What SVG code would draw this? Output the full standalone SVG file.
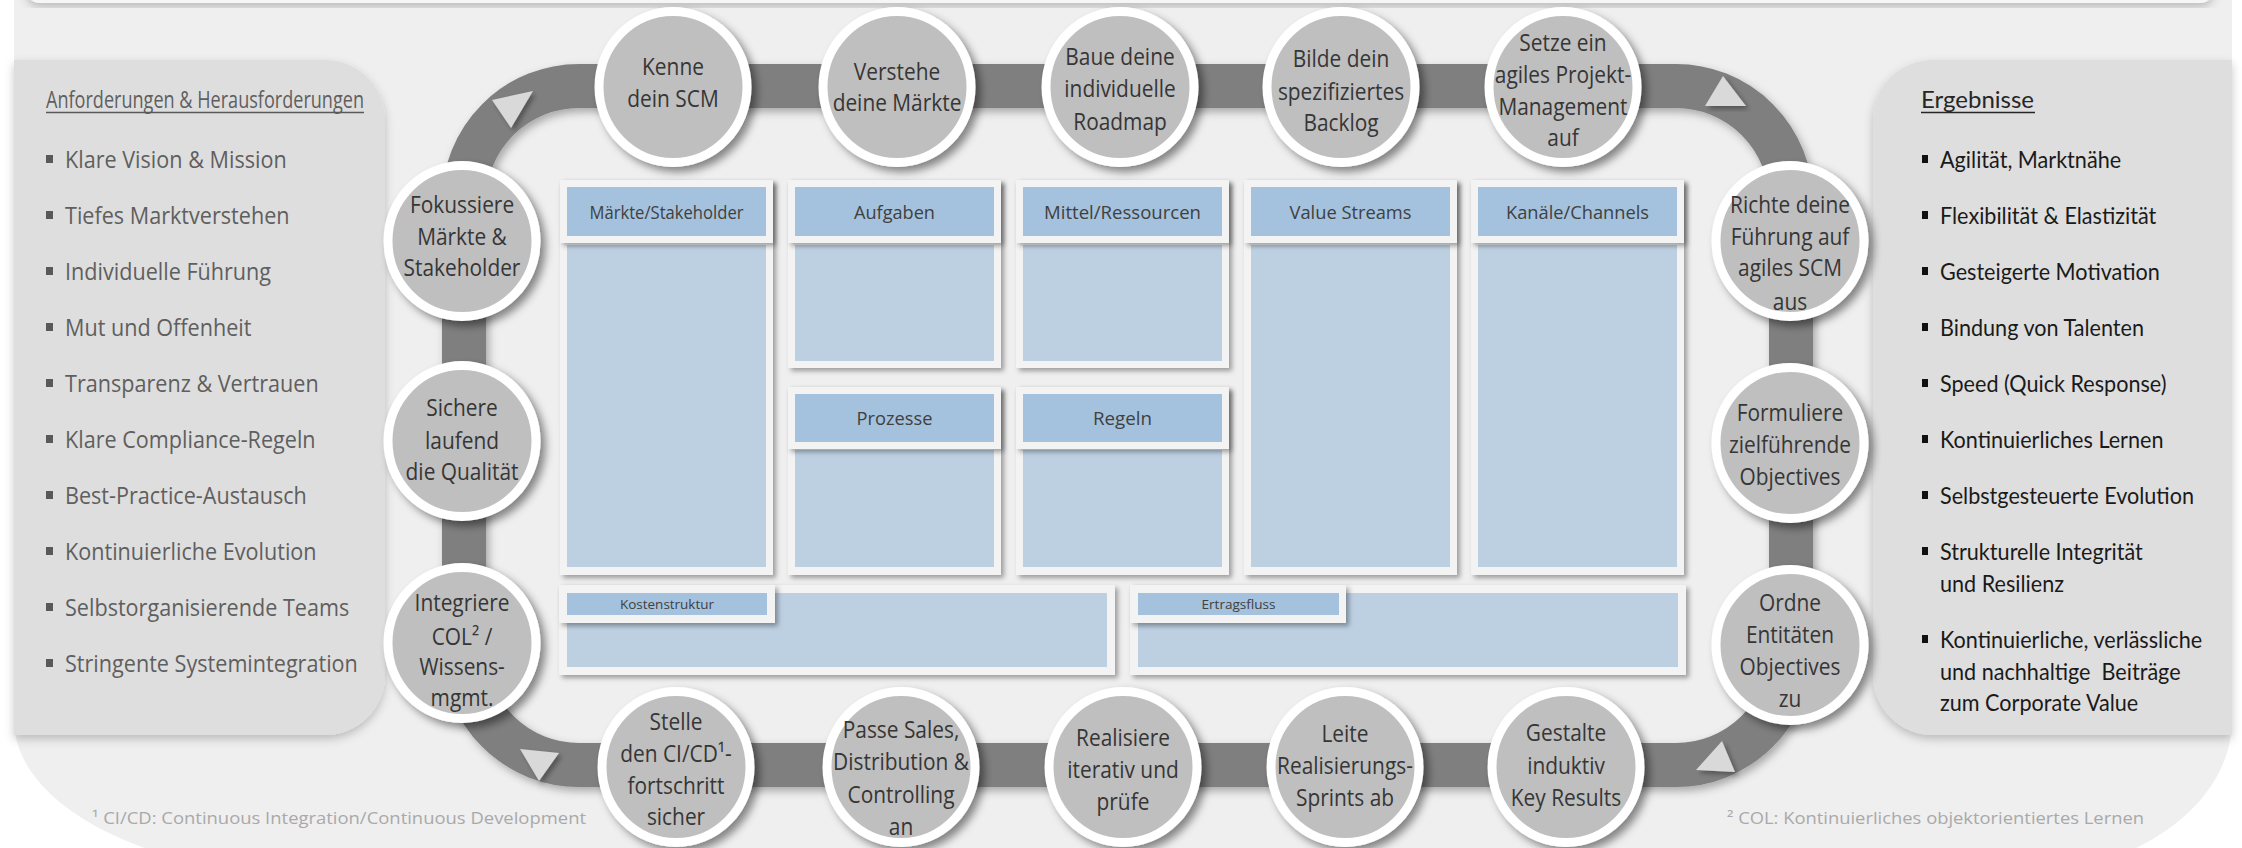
<svg xmlns="http://www.w3.org/2000/svg" width="2242" height="848" viewBox="0 0 2242 848">
<defs>
<filter id="sh" x="-20%" y="-20%" width="140%" height="140%"><feDropShadow dx="3" dy="3" stdDeviation="2.5" flood-color="#000" flood-opacity="0.35"/></filter>
<filter id="shc" x="-20%" y="-20%" width="150%" height="150%"><feDropShadow dx="5" dy="5" stdDeviation="4" flood-color="#000" flood-opacity="0.45"/></filter>
<filter id="shp" x="-10%" y="-10%" width="120%" height="120%"><feDropShadow dx="0" dy="4" stdDeviation="5" flood-color="#000" flood-opacity="0.22"/></filter>
<filter id="shb" x="-10%" y="-10%" width="120%" height="120%"><feDropShadow dx="3" dy="4" stdDeviation="4" flood-color="#000" flood-opacity="0.3"/></filter>
<style>
.bg{fill:#efefef}
.strip{fill:#f6f6f6}
.panel{fill:#dedede}
.band{fill:none;stroke:#7f7f7f;stroke-width:44}
.arr{fill:#d9d9d9}
.card{fill:#f3f3f3}
.body{fill:#bdd0e2}
.hdr{fill:#a4c2dd}
.circ{fill:#bfbfbf;stroke:#fff;stroke-width:9}
.ct{font-family:"Open Sans","Liberation Sans",sans-serif;font-size:24px;fill:#363636;text-anchor:middle}
.ht{font-family:"Open Sans","Liberation Sans",sans-serif;font-size:19px;fill:#404040;text-anchor:middle}
.st{font-family:"Open Sans","Liberation Sans",sans-serif;font-size:13px;fill:#404040;text-anchor:middle}
.lt{font-family:"Open Sans","Liberation Sans",sans-serif;font-size:24px;fill:#5f5f5f}
.rt{font-family:Lato,"Liberation Sans",sans-serif;font-size:24px;fill:#1a1a1a;white-space:pre}
.rh{font-family:Lato,"Liberation Sans",sans-serif;font-size:24px;fill:#262626}
.fn{font-family:"Open Sans","Liberation Sans",sans-serif;font-size:17px;fill:#a9a9a9}
.lb{fill:#595959}
.rb{fill:#111}
</style>
</defs>

<g id="background">
<path class="bg" d="M14,0 H2232 V720 A220,155 0 0 1 2012,875 H314 A300,155 0 0 1 14,720 Z"/>
<rect class="strip" x="26" y="-40" width="2188" height="43" rx="14" filter="url(#shp)"/>
</g>

<g id="panel-left">
<path class="panel" filter="url(#shp)" d="M14,60 H325 A60,60 0 0 1 385,120 V675 A60,60 0 0 1 325,735 H14 Z"/>
<text class="lt" x="46" y="108" textLength="318" lengthAdjust="spacingAndGlyphs">Anforderungen &amp; Herausforderungen</text>
<line x1="46" y1="112.5" x2="364" y2="112.5" stroke="#595959" stroke-width="1.6"/>
<rect class="lb" x="46" y="155" width="7" height="8"/>
<rect class="lb" x="46" y="211" width="7" height="8"/>
<rect class="lb" x="46" y="267" width="7" height="8"/>
<rect class="lb" x="46" y="323" width="7" height="8"/>
<rect class="lb" x="46" y="379" width="7" height="8"/>
<rect class="lb" x="46" y="435" width="7" height="8"/>
<rect class="lb" x="46" y="491" width="7" height="8"/>
<rect class="lb" x="46" y="547" width="7" height="8"/>
<rect class="lb" x="46" y="603" width="7" height="8"/>
<rect class="lb" x="46" y="659" width="7" height="8"/>
<g transform="translate(65 0) scale(0.9 1)">
<text class="lt" x="0" y="168">Klare Vision &amp; Mission</text>
<text class="lt" x="0" y="224">Tiefes Marktverstehen</text>
<text class="lt" x="0" y="280">Individuelle Führung</text>
<text class="lt" x="0" y="336">Mut und Offenheit</text>
<text class="lt" x="0" y="392">Transparenz &amp; Vertrauen</text>
<text class="lt" x="0" y="448">Klare Compliance-Regeln</text>
<text class="lt" x="0" y="504">Best-Practice-Austausch</text>
<text class="lt" x="0" y="560">Kontinuierliche Evolution</text>
<text class="lt" x="0" y="616">Selbstorganisierende Teams</text>
<text class="lt" x="0" y="672">Stringente Systemintegration</text>
</g>
</g>

<g id="panel-right">
<path class="panel" filter="url(#shp)" d="M2232,60 H1933 A60,60 0 0 0 1873,120 V675 A60,60 0 0 0 1933,735 H2232 Z"/>
<text class="rh" x="1921" y="108">Ergebnisse</text>
<line x1="1921" y1="112.5" x2="2035" y2="112.5" stroke="#262626" stroke-width="1.6"/>
<rect class="rb" x="1922" y="155" width="6" height="8"/>
<rect class="rb" x="1922" y="211" width="6" height="8"/>
<rect class="rb" x="1922" y="267" width="6" height="8"/>
<rect class="rb" x="1922" y="323" width="6" height="8"/>
<rect class="rb" x="1922" y="379" width="6" height="8"/>
<rect class="rb" x="1922" y="435" width="6" height="8"/>
<rect class="rb" x="1922" y="491" width="6" height="8"/>
<rect class="rb" x="1922" y="547" width="6" height="8"/>
<rect class="rb" x="1922" y="635" width="6" height="8"/>
<g transform="translate(1940 0) scale(0.9 1)">
<text class="rt" x="0" y="168">Agilität, Marktnähe</text>
<text class="rt" x="0" y="224">Flexibilität &amp; Elastizität</text>
<text class="rt" x="0" y="280">Gesteigerte Motivation</text>
<text class="rt" x="0" y="336">Bindung von Talenten</text>
<text class="rt" x="0" y="392">Speed (Quick Response)</text>
<text class="rt" x="0" y="448">Kontinuierliches Lernen</text>
<text class="rt" x="0" y="504">Selbstgesteuerte Evolution</text>
<text class="rt" x="0" y="560">Strukturelle Integrität</text>
<text class="rt" x="0" y="592">und Resilienz</text>
<text class="rt" x="0" y="648">Kontinuierliche, verlässliche</text>
<text class="rt" x="0" y="680">und nachhaltige  Beiträge</text>
<text class="rt" x="0" y="711">zum Corporate Value</text>
</g>
</g>

<g id="connectors">
<path class="band" filter="url(#shb)" d="M579,86 H1676 A115,115 0 0 1 1791,201 V650 A115,115 0 0 1 1676,765 H579 A115,115 0 0 1 464,650 V201 A115,115 0 0 1 579,86 Z"/>
<polygon class="arr" filter="url(#sh)" points="492,100 533,91 511,128"/>
<polygon class="arr" filter="url(#sh)" points="1705,106 1746,106 1723,76"/>
<polygon class="arr" filter="url(#sh)" points="520,749 559,753 539,781"/>
<polygon class="arr" filter="url(#sh)" points="1696,770 1735,772 1722,741"/>
</g>

<g id="canvas">
<g id="col-maerkte">
<rect class="card" filter="url(#sh)" x="560" y="180" width="213" height="395"/>
<rect class="body" x="567" y="245" width="199" height="322"/>
<rect class="card" filter="url(#sh)" x="560" y="180" width="213" height="63"/>
<rect class="hdr" x="567" y="187" width="199" height="49"/>
<text class="ht" x="666.5" y="218.5" textLength="154" lengthAdjust="spacingAndGlyphs">Märkte/Stakeholder</text>
</g>
<g id="col-aufgaben">
<rect class="card" filter="url(#sh)" x="788" y="180" width="213" height="188"/>
<rect class="body" x="795" y="245" width="199" height="116"/>
<rect class="card" filter="url(#sh)" x="788" y="180" width="213" height="63"/>
<rect class="hdr" x="795" y="187" width="199" height="49"/>
<text class="ht" x="894.5" y="218.5" textLength="81" lengthAdjust="spacingAndGlyphs">Aufgaben</text>
</g>
<g id="col-mittel">
<rect class="card" filter="url(#sh)" x="1016" y="180" width="213" height="188"/>
<rect class="body" x="1023" y="245" width="199" height="116"/>
<rect class="card" filter="url(#sh)" x="1016" y="180" width="213" height="63"/>
<rect class="hdr" x="1023" y="187" width="199" height="49"/>
<text class="ht" x="1122.5" y="218.5" textLength="157" lengthAdjust="spacingAndGlyphs">Mittel/Ressourcen</text>
</g>
<g id="col-prozesse">
<rect class="card" filter="url(#sh)" x="788" y="387" width="213" height="188"/>
<rect class="body" x="795" y="450" width="199" height="117"/>
<rect class="card" filter="url(#sh)" x="788" y="387" width="213" height="62"/>
<rect class="hdr" x="795" y="394" width="199" height="48"/>
<text class="ht" x="894.5" y="425" textLength="76" lengthAdjust="spacingAndGlyphs">Prozesse</text>
</g>
<g id="col-regeln">
<rect class="card" filter="url(#sh)" x="1016" y="387" width="213" height="188"/>
<rect class="body" x="1023" y="450" width="199" height="117"/>
<rect class="card" filter="url(#sh)" x="1016" y="387" width="213" height="62"/>
<rect class="hdr" x="1023" y="394" width="199" height="48"/>
<text class="ht" x="1122.5" y="425" textLength="59" lengthAdjust="spacingAndGlyphs">Regeln</text>
</g>
<g id="col-value">
<rect class="card" filter="url(#sh)" x="1244" y="180" width="213" height="395"/>
<rect class="body" x="1251" y="245" width="199" height="322"/>
<rect class="card" filter="url(#sh)" x="1244" y="180" width="213" height="63"/>
<rect class="hdr" x="1251" y="187" width="199" height="49"/>
<text class="ht" x="1350.5" y="218.5" textLength="122" lengthAdjust="spacingAndGlyphs">Value Streams</text>
</g>
<g id="col-kanaele">
<rect class="card" filter="url(#sh)" x="1471" y="180" width="213" height="395"/>
<rect class="body" x="1478" y="245" width="199" height="322"/>
<rect class="card" filter="url(#sh)" x="1471" y="180" width="213" height="63"/>
<rect class="hdr" x="1478" y="187" width="199" height="49"/>
<text class="ht" x="1577.5" y="218.5" textLength="143" lengthAdjust="spacingAndGlyphs">Kanäle/Channels</text>
</g>
<g id="row-kosten">
<rect class="card" filter="url(#sh)" x="559" y="585" width="556" height="90"/>
<rect class="body" x="567" y="593" width="540" height="74"/>
<rect class="card" filter="url(#sh)" x="559" y="585" width="216" height="38"/>
<rect class="hdr" x="567" y="593" width="200" height="22"/>
<text class="st" x="667" y="608.5" textLength="94" lengthAdjust="spacingAndGlyphs">Kostenstruktur</text>
</g>
<g id="row-ertrag">
<rect class="card" filter="url(#sh)" x="1130" y="585" width="556" height="90"/>
<rect class="body" x="1138" y="593" width="540" height="74"/>
<rect class="card" filter="url(#sh)" x="1130" y="585" width="216" height="38"/>
<rect class="hdr" x="1138" y="593" width="201" height="22"/>
<text class="st" x="1238.5" y="608.5" textLength="74" lengthAdjust="spacingAndGlyphs">Ertragsfluss</text>
</g>
</g>

<g id="steps">
<g id="s01"><ellipse class="circ" filter="url(#shc)" cx="673" cy="87" rx="74" ry="75.5"/>
<text class="ct" transform="translate(673 0) scale(0.87 1)"><tspan x="0" y="75">Kenne</tspan><tspan x="0" y="107">dein SCM</tspan></text></g>
<g id="s02"><ellipse class="circ" filter="url(#shc)" cx="897" cy="87" rx="74" ry="75.5"/>
<text class="ct" transform="translate(897 0) scale(0.87 1)"><tspan x="0" y="80">Verstehe</tspan><tspan x="0" y="111">deine Märkte</tspan></text></g>
<g id="s03"><ellipse class="circ" filter="url(#shc)" cx="1120" cy="87" rx="74" ry="75.5"/>
<text class="ct" transform="translate(1120 0) scale(0.87 1)"><tspan x="0" y="65">Baue deine</tspan><tspan x="0" y="97">individuelle</tspan><tspan x="0" y="130">Roadmap</tspan></text></g>
<g id="s04"><ellipse class="circ" filter="url(#shc)" cx="1341" cy="87" rx="74" ry="75.5"/>
<text class="ct" transform="translate(1341 0) scale(0.87 1)"><tspan x="0" y="67">Bilde dein</tspan><tspan x="0" y="100">spezifiziertes</tspan><tspan x="0" y="131">Backlog</tspan></text></g>
<g id="s05"><ellipse class="circ" filter="url(#shc)" cx="1563" cy="87" rx="74" ry="75.5"/>
<text class="ct" transform="translate(1563 0) scale(0.87 1)"><tspan x="0" y="51">Setze ein</tspan><tspan x="0" y="83">agiles Projekt-</tspan><tspan x="0" y="115">Management</tspan><tspan x="0" y="146">auf</tspan></text></g>
<g id="s06"><ellipse class="circ" filter="url(#shc)" cx="1790" cy="241" rx="74" ry="75.5"/>
<text class="ct" transform="translate(1790 0) scale(0.87 1)"><tspan x="0" y="213">Richte deine</tspan><tspan x="0" y="245">Führung auf</tspan><tspan x="0" y="276">agiles SCM</tspan><tspan x="0" y="310">aus</tspan></text></g>
<g id="s07"><ellipse class="circ" filter="url(#shc)" cx="1790" cy="443" rx="74" ry="75.5"/>
<text class="ct" transform="translate(1790 0) scale(0.87 1)"><tspan x="0" y="421">Formuliere</tspan><tspan x="0" y="453">zielführende</tspan><tspan x="0" y="485">Objectives</tspan></text></g>
<g id="s08"><ellipse class="circ" filter="url(#shc)" cx="1790" cy="645" rx="74" ry="75.5"/>
<text class="ct" transform="translate(1790 0) scale(0.87 1)"><tspan x="0" y="611">Ordne</tspan><tspan x="0" y="643">Entitäten</tspan><tspan x="0" y="675">Objectives</tspan><tspan x="0" y="707">zu</tspan></text></g>
<g id="s09"><ellipse class="circ" filter="url(#shc)" cx="1566" cy="767" rx="74" ry="75.5"/>
<text class="ct" transform="translate(1566 0) scale(0.87 1)"><tspan x="0" y="741">Gestalte</tspan><tspan x="0" y="774">induktiv</tspan><tspan x="0" y="806">Key Results</tspan></text></g>
<g id="s10"><ellipse class="circ" filter="url(#shc)" cx="1345" cy="767" rx="74" ry="75.5"/>
<text class="ct" transform="translate(1345 0) scale(0.87 1)"><tspan x="0" y="742">Leite</tspan><tspan x="0" y="774">Realisierungs-</tspan><tspan x="0" y="806">Sprints ab</tspan></text></g>
<g id="s11"><ellipse class="circ" filter="url(#shc)" cx="1123" cy="767" rx="74" ry="75.5"/>
<text class="ct" transform="translate(1123 0) scale(0.87 1)"><tspan x="0" y="746">Realisiere</tspan><tspan x="0" y="778">iterativ und</tspan><tspan x="0" y="810">prüfe</tspan></text></g>
<g id="s12"><ellipse class="circ" filter="url(#shc)" cx="901" cy="767" rx="74" ry="75.5"/>
<text class="ct" transform="translate(901 0) scale(0.87 1)"><tspan x="0" y="738">Passe Sales,</tspan><tspan x="0" y="770">Distribution &amp;</tspan><tspan x="0" y="803">Controlling</tspan><tspan x="0" y="835">an</tspan></text></g>
<g id="s13"><ellipse class="circ" filter="url(#shc)" cx="676" cy="767" rx="74" ry="75.5"/>
<text class="ct" transform="translate(676 0) scale(0.87 1)"><tspan x="0" y="730">Stelle</tspan><tspan x="0" y="762">den CI/CD¹-</tspan><tspan x="0" y="794">fortschritt</tspan><tspan x="0" y="825">sicher</tspan></text></g>
<g id="s14"><ellipse class="circ" filter="url(#shc)" cx="462" cy="643" rx="74" ry="75.5"/>
<text class="ct" transform="translate(462 0) scale(0.87 1)"><tspan x="0" y="611">Integriere</tspan><tspan x="0" y="645">COL² /</tspan><tspan x="0" y="675">Wissens-</tspan><tspan x="0" y="706">mgmt.</tspan></text></g>
<g id="s15"><ellipse class="circ" filter="url(#shc)" cx="462" cy="441" rx="74" ry="75.5"/>
<text class="ct" transform="translate(462 0) scale(0.87 1)"><tspan x="0" y="416">Sichere</tspan><tspan x="0" y="449">laufend</tspan><tspan x="0" y="480">die Qualität</tspan></text></g>
<g id="s16"><ellipse class="circ" filter="url(#shc)" cx="462" cy="241" rx="74" ry="75.5"/>
<text class="ct" transform="translate(462 0) scale(0.87 1)"><tspan x="0" y="213">Fokussiere</tspan><tspan x="0" y="245">Märkte &amp;</tspan><tspan x="0" y="276">Stakeholder</tspan></text></g>
</g>

<g id="footnotes">
<text class="fn" x="92" y="824" textLength="494" lengthAdjust="spacingAndGlyphs">¹ CI/CD: Continuous Integration/Continuous Development</text>
<text class="fn" x="1727" y="824" textLength="417" lengthAdjust="spacingAndGlyphs">² COL: Kontinuierliches objektorientiertes Lernen</text>
</g>
</svg>
